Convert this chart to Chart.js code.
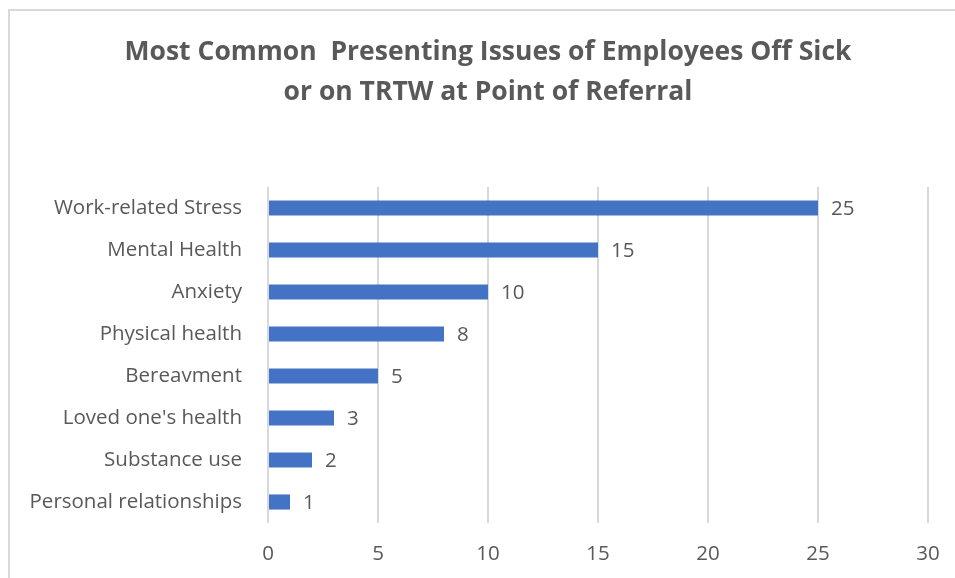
<!DOCTYPE html>
<html>
<head>
<meta charset="utf-8">
<script src="https://cdn.jsdelivr.net/npm/chart.js@4.4.0/dist/chart.umd.min.js"></script>
<style>
  html, body { margin: 0; padding: 0; background: #ffffff; overflow: hidden; }
  #frame {
    position: absolute; left: 8px; top: 9px;
    width: 960px; height: 600px;
    border: 2px solid #d9d9d9; background: #ffffff;
  }
  canvas { display: block; }
</style>
</head>
<body>
<div id="frame"><canvas id="chart" width="960" height="600"></canvas></div>
<script>
// chart data
const categories = [
  'Work-related Stress',
  'Mental Health',
  'Anxiety',
  'Physical health',
  'Bereavment',
  "Loved one's health",
  'Substance use',
  'Personal relationships'
];
const counts = [25, 15, 10, 8, 5, 3, 2, 1];
const xTicks = [0, 5, 10, 15, 20, 25, 30];
const titleLines = [
  'Most Common  Presenting Issues of Employees Off Sick',
  'or on TRTW at Point of Referral'
];

const textColor = '#595959';
const fontFamily = '"Open Sans", sans-serif';

// simple value labels to the right of each bar
const valueLabels = {
  id: 'valueLabels',
  afterDatasetsDraw(chart) {
    const ctx = chart.ctx;
    const meta = chart.getDatasetMeta(0);
    ctx.save();
    ctx.font = '20.5px ' + fontFamily;
    ctx.fillStyle = textColor;
    ctx.textAlign = 'left';
    ctx.textBaseline = 'middle';
    meta.data.forEach((bar, i) => {
      ctx.fillText(String(counts[i]), bar.x + 13, bar.y + 1);
    });
    ctx.restore();
  }
};

// the title sits centred on the whole frame, not on the padded box
const titleShift = {
  id: 'titleShift',
  afterLayout(chart) {
    if (chart.titleBlock) chart.titleBlock.left += 38;
  }
};

new Chart(document.getElementById('chart').getContext('2d'), {
  type: 'bar',
  data: {
    labels: categories,
    datasets: [{
      data: counts,
      backgroundColor: '#4472C4',
      borderWidth: 0,
      barPercentage: 0.36,
      categoryPercentage: 1
    }]
  },
  options: {
    indexAxis: 'y',
    responsive: false,
    animation: false,
    layout: {
      padding: { left: 0, right: 42, top: 0, bottom: 0 }
    },
    plugins: {
      legend: { display: false },
      tooltip: { enabled: false },
      title: {
        display: true,
        text: titleLines,
        color: textColor,
        font: { family: fontFamily, size: 26.5, weight: 'bold', lineHeight: '40px' },
        padding: { top: 21, bottom: 75 }
      }
    },
    scales: {
      x: {
        min: 0,
        max: 30,
        afterBuildTicks(scale) {
          scale.ticks = xTicks.map(v => ({ value: v }));
        },
        afterFit(scale) { scale.height = 88; },
        grid: { color: '#d9d9d9', lineWidth: 2, drawTicks: false },
        border: { display: false },
        ticks: {
          color: textColor,
          padding: 19,
          font: { family: fontFamily, size: 20.5 }
        }
      },
      y: {
        afterFit(scale) { scale.width = 258; },
        grid: { display: false, drawTicks: false },
        border: { display: false },
        ticks: {
          color: textColor,
          padding: 26,
          font: { family: fontFamily, size: 20.5 }
        }
      }
    }
  },
  plugins: [valueLabels, titleShift]
});
</script>
</body>
</html>
